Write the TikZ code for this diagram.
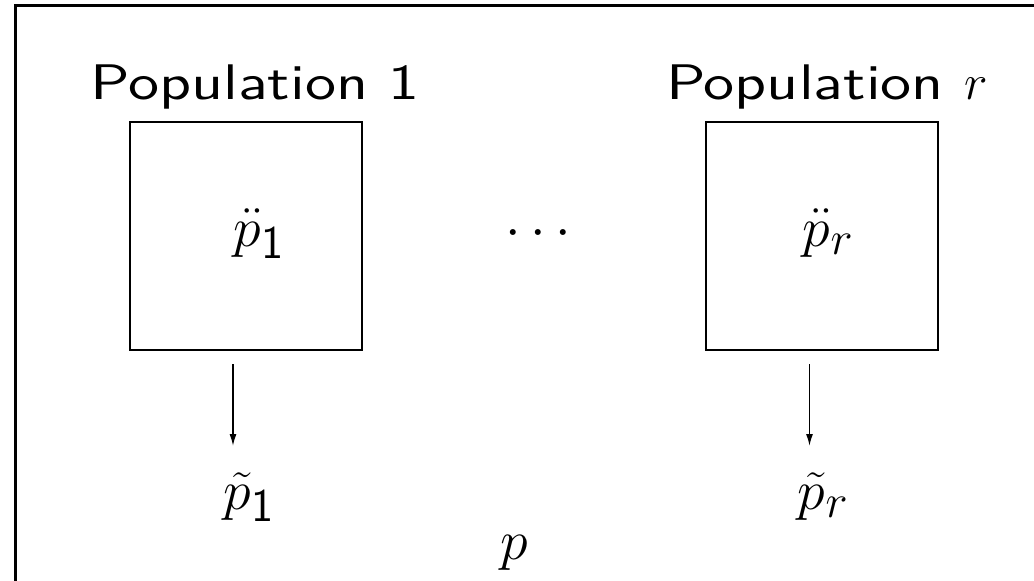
\documentclass[tikz,border=0pt]{standalone}
\usepackage{fix-cm}
\usepackage{amsmath}
\usepackage{fontspec}
\newfontfamily\popfont{lmsans10-regular.otf}[FakeStretch=1.24]
\DeclareMathSizes{56}{56}{47}{38}
\usetikzlibrary{arrows.meta,positioning,calc}

\begin{document}
\begin{tikzpicture}[x=1pt,y=-1pt,
  popbox/.style={draw,line width=2pt,minimum width=232pt,minimum height=228pt,inner sep=0pt},
  poplabel/.style={font=\fontsize{50}{56}\popfont,anchor=base,inner sep=0pt},
  mathlabel/.style={font=\fontsize{56}{60}\selectfont,anchor=base,inner sep=0pt},
  flow/.style={-{Latex[length=12pt,width=7pt]},line width=1.5pt}]
  \useasboundingbox (0,0) rectangle (1034,581);
  % 外枠(右と下は画面外)
  \begin{scope}
    \clip (0,0) rectangle (1034,581);
    \draw[line width=3pt] (15,5) rectangle (1070,620);
  \end{scope}
  % 母集団
  \node[popbox] (box1) at (246,236) {};
  \node[popbox] (boxr) at (821.5,236) {};
  \node[poplabel] (pop1) at (255,99) {Population 1};
  \node[poplabel] (popr) at (827,99) {Population $r$};
  \node[mathlabel] (dd1) at (259,246) {$\ddot{p}_{\mathsf{1}}$};
  \node[mathlabel] (ddr) at (828,246) {$\ddot{p}_{r}$};
  \node[mathlabel] (dots) at (543,246) {$\cdots$};
  % 標本
  \node[mathlabel] (tl1) at (249,509) {$\tilde{p}_{\mathsf{1}}$};
  \node[mathlabel] (tlr) at (823,509) {$\tilde{p}_{r}$};
  \node[mathlabel] (pall) at (514,559) {$p$};
  \draw[flow] ($(box1.south)+(-13,13)$) -- ($(box1.south)+(-13,95)$);
  \draw[flow] ($(boxr.south)+(-12,13)$) -- ($(boxr.south)+(-12,95)$);
\end{tikzpicture}
\end{document}
